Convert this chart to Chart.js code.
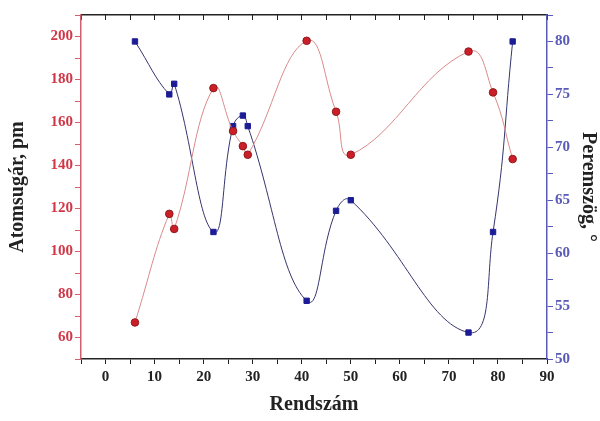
<!DOCTYPE html>
<html>
<head>
<meta charset="utf-8">
<script src="https://cdn.jsdelivr.net/npm/chart.js@4/dist/chart.umd.min.js"></script>
<style>
  html, body { margin: 0; padding: 0; background: #fff; }
  #wrap { width: 600px; height: 421px; position: relative; }
</style>
</head>
<body>
<div id="wrap"><canvas id="chart" width="600" height="421"></canvas></div>
<script>
  // Rendszám (atomic number)
  var rendszam = [6, 13, 14, 22, 26, 28, 29, 41, 47, 50, 74, 79, 83];
  // Atomsugár, pm (left axis)
  var atomsugar = [67, 117.5, 110.5, 176, 156, 149, 145, 198, 165, 145, 193, 174, 143];
  // Peremszög, ° (right axis)
  var peremszog = [80, 75, 76, 62, 72, 73, 72, 55.5, 64, 65, 52.5, 62, 80];

  var red = '#cc1e28';
  var redLabel = '#d03848';
  var blue = '#1c1c96';
  var blueAxis = '#5a5ab8';

  function pairs(xs, ys) {
    return xs.map(function (x, i) { return { x: x, y: ys[i] }; });
  }

  var tickFont = { family: 'Liberation Serif', size: 15, weight: 'bold' };
  var titleFont = { family: 'Liberation Serif', size: 20, weight: 'bold' };

  new Chart(document.getElementById('chart'), {
    type: 'scatter',
    data: {
      datasets: [
        {
          label: 'Atomsugár',
          data: pairs(rendszam, atomsugar),
          yAxisID: 'y',
          showLine: true,
          tension: 0.45,
          borderColor: '#d98a8a',
          borderWidth: 1,
          pointRadius: 3.8,
          pointBackgroundColor: red,
          pointBorderColor: '#8e1a1a',
          pointBorderWidth: 1
        },
        {
          label: 'Peremszög',
          data: pairs(rendszam, peremszog),
          yAxisID: 'y1',
          showLine: true,
          tension: 0.45,
          borderColor: '#34346e',
          borderWidth: 1,
          pointStyle: 'rect',
          pointRadius: 3.8,
          pointBackgroundColor: blue,
          pointBorderColor: blue,
          pointBorderWidth: 1
        }
      ]
    },
    options: {
      responsive: false,
      animation: false,
      layout: { padding: 0 },
      plugins: { legend: { display: false }, tooltip: { enabled: false } },
      scales: {
        x: {
          type: 'linear',
          position: 'bottom',
          min: -5,
          max: 90,
          afterFit: function (s) { s.height = 62; },
          ticks: {
            stepSize: 5,
            autoSkip: false,
            maxRotation: 0,
            padding: 4,
            color: '#222',
            font: tickFont,
            callback: function (v) { return (v % 10 === 0 && v >= 0) ? v : ''; }
          },
          grid: { drawOnChartArea: false, tickLength: 5, color: '#222' },
          border: { color: '#222', width: 1.5 },
          title: { display: true, text: 'Rendszám', color: '#222', font: titleFont, padding: { top: -2 } }
        },
        xTop: {
          type: 'linear',
          position: 'top',
          min: -5,
          max: 90,
          afterFit: function (s) { s.height = 15; },
          ticks: { display: false, stepSize: 5 },
          grid: { drawOnChartArea: false, tickLength: -5, color: '#222' },
          border: { color: '#222', width: 1.5 }
        },
        y: {
          type: 'linear',
          position: 'left',
          min: 50,
          max: 210,
          afterFit: function (s) { s.width = 81; },
          ticks: {
            stepSize: 10,
            autoSkip: false,
            padding: 2,
            color: redLabel,
            font: tickFont,
            callback: function (v) { return (v % 20 === 0 && v >= 60 && v <= 200) ? v : ''; }
          },
          grid: { drawOnChartArea: false, tickLength: 6, color: '#d06070' },
          border: { color: '#d06070', width: 1.5 },
          title: { display: true, text: 'Atomsugár, pm', color: '#222', font: titleFont, padding: { top: 6 } }
        },
        y1: {
          type: 'linear',
          position: 'right',
          min: 50,
          max: 82.5,
          afterFit: function (s) { s.width = 53; },
          ticks: {
            stepSize: 2.5,
            autoSkip: false,
            padding: 2,
            color: blueAxis,
            font: tickFont,
            callback: function (v) { return (v % 5 === 0 && v <= 80) ? v : ''; }
          },
          grid: { drawOnChartArea: false, tickLength: 6, color: blueAxis },
          border: { color: blueAxis, width: 1.5 },
          title: { display: true, text: 'Peremszög, °', color: '#222', font: titleFont, padding: { top: 0 } }
        }
      }
    }
  });
</script>
</body>
</html>
